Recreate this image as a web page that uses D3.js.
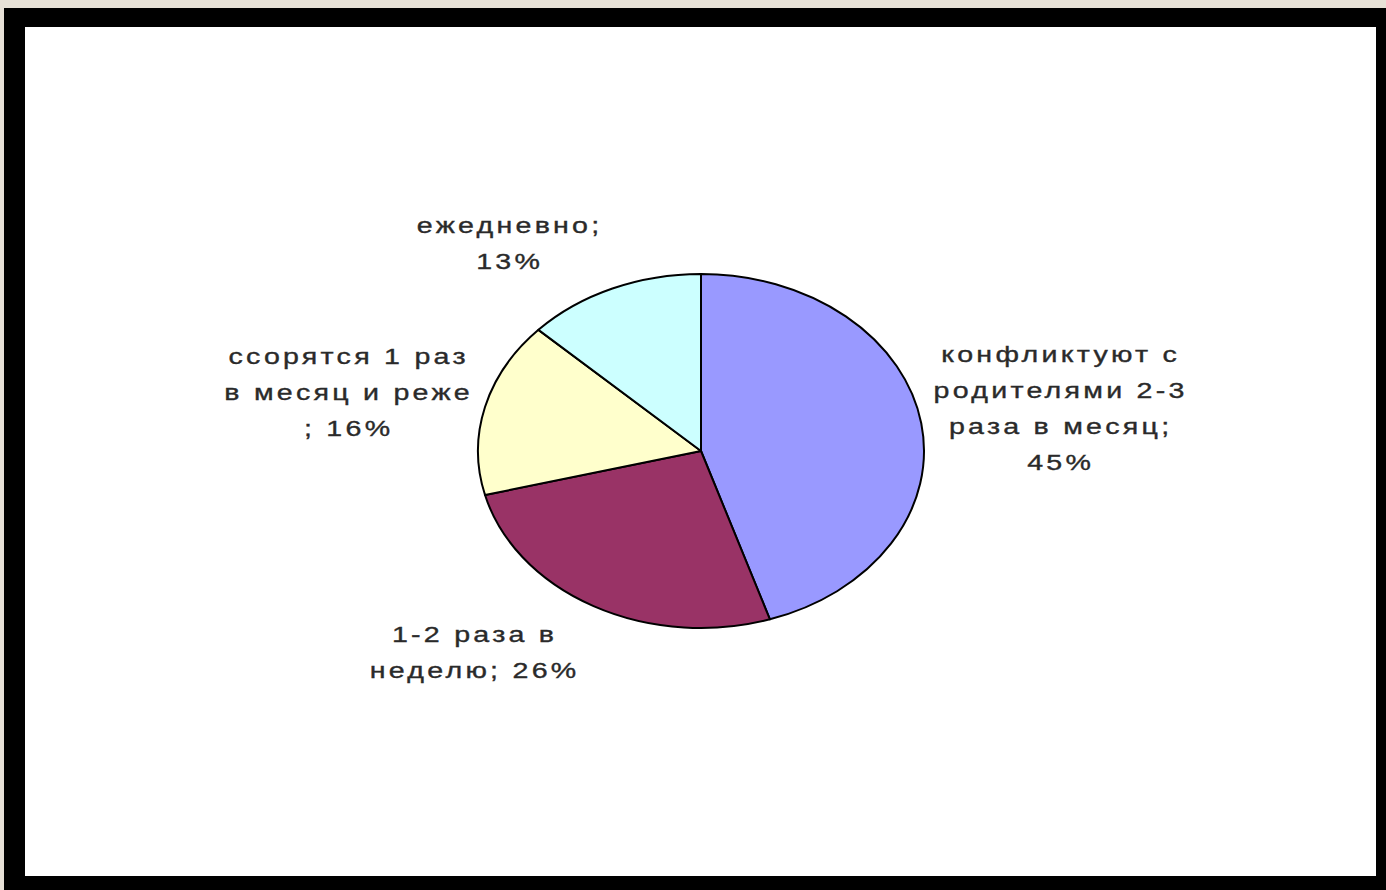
<!DOCTYPE html>
<html>
<head>
<meta charset="utf-8">
<script src="https://cdn.jsdelivr.net/npm/d3@7"></script>
<style>
  html, body { margin: 0; padding: 0; background: #e7e1d7; }
  svg { display: block; }
</style>
</head>
<body>
<svg id="chart" width="1386" height="890"></svg>
<script>
// ---- data ----
const categories = [
  "конфликтуют с родителями 2-3 раза в месяц",
  "1-2 раза в неделю",
  "ссорятся 1 раз в месяц и реже",
  "ежедневно"
];
const values = [45, 26, 16, 13];
const colors = ["#9999FF", "#993366", "#FFFFCC", "#CCFFFF"];
const labelLines = [
  ["конфликтуют с", "родителями 2-3", "раза в месяц;", "45%"],
  ["1-2 раза в", "неделю; 26%"],
  ["ссорятся 1 раз", "в месяц и реже", "; 16%"],
  ["ежедневно;", "13%"]
];
// label anchor (centre x, first line centre y) per slice
const labelPos = [[1059, 354], [473, 634], [347, 356], [508, 225]];

// ---- layout ----
const svg = d3.select("#chart");
svg.append("rect").attr("x", 0).attr("y", 0).attr("width", 1386).attr("height", 890).attr("fill", "#e7e1d7");
svg.append("rect").attr("x", 4).attr("y", 8).attr("width", 1382).attr("height", 882).attr("fill", "#000");
svg.append("rect").attr("x", 25).attr("y", 27).attr("width", 1351).attr("height", 849).attr("fill", "#fff");

const cx = 701, cy = 451, rx = 223, ry = 177;

const pie = d3.pie().sort(null).value(d => d).startAngle(0).endAngle(2 * Math.PI);
const arcs = pie(values);
const arc = d3.arc().innerRadius(0).outerRadius(ry);

const g = svg.append("g").attr("transform", `translate(${cx},${cy}) scale(${rx / ry},1)`);
g.selectAll("path")
  .data(arcs)
  .join("path")
  .attr("d", arc)
  .attr("fill", (d, i) => colors[i])
  .attr("stroke", "#000")
  .attr("stroke-width", 2)
  .attr("vector-effect", "non-scaling-stroke")
  .attr("stroke-linejoin", "round");

// ---- labels ----
const ls = 2.5;
const sx = 1.3;
const lineH = 36;
const lab = svg.append("g")
  .attr("font-family", "Arial, 'Liberation Sans', sans-serif")
  .attr("font-size", 22)
  .attr("fill", "#2a2a2a")
  .attr("stroke", "#2a2a2a")
  .attr("stroke-width", 0.35);

labelLines.forEach((lines, i) => {
  const t = lab.append("text")
    .attr("transform", `translate(${labelPos[i][0]},${labelPos[i][1]}) scale(${sx},1)`)
    .attr("text-anchor", "middle")
    .attr("dominant-baseline", "central")
    .style("letter-spacing", ls + "px");
  lines.forEach((s, j) => {
    t.append("tspan")
      .attr("x", ls / 2)
      .attr("y", j * lineH)
      .text(s);
  });
});
</script>
</body>
</html>
